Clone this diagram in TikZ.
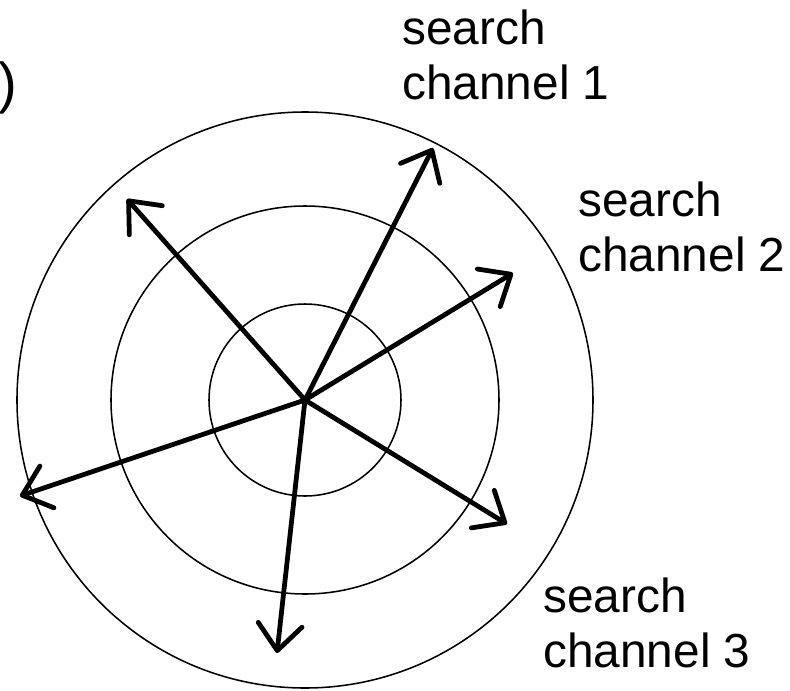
\documentclass[tikz,border=0pt]{standalone}
\usepackage{fontspec}
\setmainfont{Liberation Sans}
\usetikzlibrary{arrows.meta}
\tikzstyle{ring} = [
  circle, draw=black, line width=1.1pt,
  inner sep=0pt, outer sep=0pt
]
\tikzstyle{probe} = [-{Straight Barb[length=6.5mm,width=11mm,round]}, line width=3.4pt, line cap=round]
\tikzstyle{chanlabel} = [
  anchor=north west, align=left, inner sep=0pt,
  font=\fontsize{34}{39.1}\selectfont
]

\begin{document}
\begin{tikzpicture}

  \useasboundingbox (-7.625,-7.25) rectangle (12.125,10);

  % Search regions
  \coordinate (hub) at (0,0);
  \node[ring, minimum size=4.8cm] (inner) at (hub) {};
  \node[ring, minimum size=9.7cm] (middle) at (hub) {};
  \node[ring, minimum size=14.4cm] (outer) at (hub) {};

  % Tips of the search directions
  \coordinate (dirA) at (3.2,6.3);
  \coordinate (dirB) at (5.2,3.175);
  \coordinate (dirC) at (5.05,-3.1);
  \coordinate (dirD) at (-0.7,-6.325);
  \coordinate (dirE) at (-7.125,-2.4);
  \coordinate (dirF) at (-4.45,5.025);

  % Arrows
  \foreach \d in {dirA,dirB,dirC,dirD,dirE,dirF}
    \draw[probe] (hub) -- (\d);

  % Labels
  \node[chanlabel] (chan1) at (2.425,9.75) {search\\channel 1};
  \node[chanlabel] (chan2) at (6.825,5.45) {search\\channel 2};
  \node[chanlabel] (chan3) at (5.95,-4.45) {search\\channel 3};
  \node[anchor=east, inner sep=0pt, font=\fontsize{40}{42}\selectfont] (paren) at (-7.175,7.8) {)};

\end{tikzpicture}
\end{document}
